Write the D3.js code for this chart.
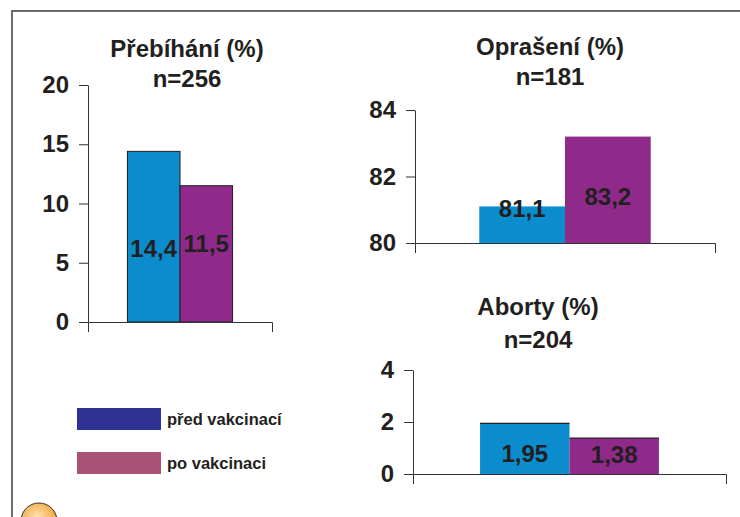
<!DOCTYPE html>
<html>
<head>
<meta charset="utf-8">
<script src="https://cdn.jsdelivr.net/npm/d3@7"></script>
<style>
  body { margin: 0; background: #fff; }
  svg { display: block; font-family: "Liberation Sans", Arial, sans-serif; font-weight: bold; }
</style>
</head>
<body>
<div class="container"></div>
<script>
// data
const series = ["před vakcinací", "po vakcinaci"];
const titles = ["Přebíhání (%)", "Oprašení (%)", "Aborty (%)"];
const counts = ["n=256", "n=181", "n=204"];
const pred = [14.4, 81.1, 1.95];
const po = [11.5, 83.2, 1.38];
const yDomains = [[0, 20], [80, 84], [0, 4]];
const yTicks = [[0, 5, 10, 15, 20], [80, 82, 84], [0, 2, 4]];

const w = 740, h = 517;
const barColors = ["#0a8ccd", "#8f2a8a"];
const legendColors = ["#2e3192", "#ab5277"];
const ink = "#231f20";

// where each small chart sits
const layout = [
  { x0: 88, x1: 272, y0: 322, y1: 85, titleX: 187, titleY: 57, nY: 87, labelAt: [6.2, 6.6], stroke: "full" },
  { x0: 415, x1: 715, y0: 243, y1: 110, titleX: 550, titleY: 55, nY: 85, labelAt: [81.03, 81.4], stroke: "none" },
  { x0: 413, x1: 726, y0: 474, y1: 370, titleX: 538, titleY: 315, nY: 348, labelAt: [0.78, 0.74], stroke: "top" }
];

const fmt = v => String(v).replace(".", ",");

const svg = d3.select(".container")
  .append("svg")
  .attr("width", w)
  .attr("height", h);

// frame lines
svg.append("path")
  .attr("d", `M12,${h}V11H${w}`)
  .attr("fill", "none")
  .attr("stroke", "#6b6b6b")
  .attr("stroke-width", 2);

layout.forEach((L, i) => {
  const g = svg.append("g");
  const y = d3.scaleLinear().domain(yDomains[i]).range([L.y0, L.y1]);
  const x = d3.scaleBand().domain([titles[i]]).range([L.x0, L.x1]).paddingOuter(0.375).paddingInner(0);
  const xs = d3.scaleBand().domain(series).range([0, x.bandwidth()]);
  const vals = [pred[i], po[i]];

  g.selectAll("rect.bar")
    .data(vals)
    .enter()
    .append("rect")
    .attr("class", "bar")
    .attr("x", (d, j) => x(titles[i]) + xs(series[j]))
    .attr("width", xs.bandwidth())
    .attr("y", d => y(d))
    .attr("height", d => y(yDomains[i][0]) - y(d))
    .attr("fill", (d, j) => barColors[j])
    .attr("stroke", L.stroke === "full" ? ink : "none")
    .attr("stroke-width", 1);

  if (L.stroke === "top") {
    g.selectAll("line.top")
      .data(vals)
      .enter()
      .append("line")
      .attr("x1", (d, j) => x(titles[i]) + xs(series[j]))
      .attr("x2", (d, j) => x(titles[i]) + xs(series[j]) + xs.bandwidth())
      .attr("y1", d => y(d))
      .attr("y2", d => y(d))
      .attr("stroke", ink)
      .attr("stroke-width", 1.2);
  }

  g.selectAll("text.val")
    .data(vals)
    .enter()
    .append("text")
    .attr("x", (d, j) => x(titles[i]) + xs(series[j]) + xs.bandwidth() / 2)
    .attr("y", (d, j) => y(L.labelAt[j]))
    .attr("dy", "0.36em")
    .attr("text-anchor", "middle")
    .attr("font-size", 24)
    .attr("fill", ink)
    .text(d => fmt(d));

  // y axis
  const ya = g.append("g")
    .attr("transform", `translate(${L.x0},0)`)
    .call(d3.axisLeft(y).tickValues(yTicks[i]).tickFormat(d3.format("d"))
      .tickSize(9).tickSizeOuter(0).tickPadding(10));
  ya.attr("font-family", null);
  ya.selectAll("text").attr("font-size", 24).attr("fill", ink);

  // x axis: baseline with end ticks only
  g.append("g")
    .attr("transform", `translate(0,${L.y0})`)
    .call(d3.axisBottom(d3.scaleLinear().range([L.x0, L.x1])).tickValues([]).tickSizeOuter(10));
  g.selectAll(".domain").attr("stroke", "#333");
  g.selectAll(".tick line").attr("stroke", "#333");

  g.append("text")
    .attr("x", L.titleX)
    .attr("y", L.titleY)
    .attr("text-anchor", "middle")
    .attr("font-size", 24)
    .attr("fill", ink)
    .text(titles[i]);

  g.append("text")
    .attr("x", L.titleX)
    .attr("y", L.nY)
    .attr("text-anchor", "middle")
    .attr("font-size", 24)
    .attr("fill", ink)
    .text(counts[i]);
});

// legend
const legend = svg.selectAll("g.legend")
  .data(series)
  .enter()
  .append("g")
  .attr("class", "legend")
  .attr("transform", (d, i) => `translate(77,${408 + i * 44})`);

legend.append("rect")
  .attr("width", 84)
  .attr("height", 22)
  .attr("fill", (d, i) => legendColors[i]);

legend.append("text")
  .attr("x", 90)
  .attr("y", 17)
  .attr("font-size", 16.5)
  .attr("fill", ink)
  .text(d => d);

// orange badge at the bottom left
const grad = svg.append("defs").append("radialGradient")
  .attr("id", "orange")
  .attr("cx", "45%").attr("cy", "40%").attr("r", "60%");
grad.append("stop").attr("offset", "0%").attr("stop-color", "#fde3b4");
grad.append("stop").attr("offset", "100%").attr("stop-color", "#f0a030");

svg.append("circle")
  .attr("cx", 39)
  .attr("cy", 521)
  .attr("r", 18)
  .attr("fill", "url(#orange)")
  .attr("stroke", "#333")
  .attr("stroke-width", 1);
</script>
</body>
</html>
